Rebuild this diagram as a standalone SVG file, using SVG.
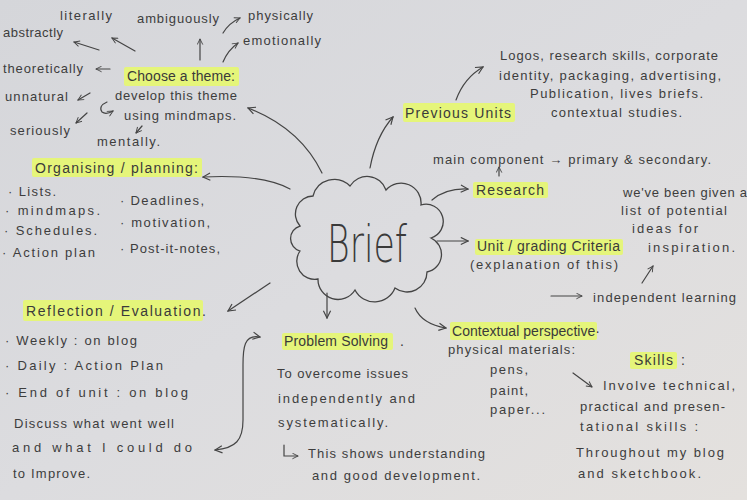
<svg xmlns="http://www.w3.org/2000/svg" width="747" height="500" viewBox="0 0 747 500">
<defs>
<linearGradient id="paper" x1="0" y1="0" x2="1" y2="1">
<stop offset="0" stop-color="#d5d6da"/>
<stop offset="0.5" stop-color="#dcdcdf"/>
<stop offset="1" stop-color="#e4e1de"/>
</linearGradient>
<marker id="ah" viewBox="0 0 10 10" refX="9" refY="5" markerWidth="9" markerHeight="9" orient="auto-start-reverse" markerUnits="userSpaceOnUse">
<path d="M1,1 L9,5 L1,9" fill="none" stroke="#444" stroke-width="1.3"/>
</marker>
<marker id="ahs" viewBox="0 0 10 10" refX="9" refY="5" markerWidth="7" markerHeight="7" orient="auto-start-reverse" markerUnits="userSpaceOnUse">
<path d="M1,1 L9,5 L1,9" fill="none" stroke="#444" stroke-width="1.3"/>
</marker>
</defs>
<style>
text{font-family:"Liberation Sans","DejaVu Sans",sans-serif;fill:#3d3d3d;font-size:13px}
.h{font-size:14px;fill:#3a3a3a}
.hl{fill:#e5f57a}
.c{fill:none;stroke:#444;stroke-width:1.2;stroke-linecap:round}
.a{marker-end:url(#ah)}
.s{marker-end:url(#ahs)}
.big{font-family:"DejaVu Sans","Liberation Sans",sans-serif;font-weight:200;font-size:52px;fill:#3a3a3a}
</style>
<rect width="747" height="500" fill="url(#paper)"/>

<g id="connectors">
<path class="c s" d="M99,50 L74,42"/>
<path class="c s" d="M135,51 L112,38"/>
<path class="c s" d="M200,60 L200,39"/>
<path class="c s" d="M223,33 Q229,23 240,18"/>
<path class="c s" d="M223,62 Q228,50 238,43"/>
<path class="c s" d="M110,69 L96,69"/>
<path class="c s" d="M90,93 L78,100"/>
<path class="c s" d="M87,113 L76,123"/>
<path class="c s" d="M107,102 Q98,106 102,112 Q106,115 113,111"/>
<path class="c s" d="M142,126 L136,133"/>
<path class="c a" d="M322,173 Q300,128 248,108"/>
<path class="c a" d="M370,168 Q376,136 393,117"/>
<path class="c a" d="M290,189 Q262,174 203,177"/>
<path class="c a" d="M270,283 L228,311"/>
<path class="c a" d="M327,293 L327,318"/>
<path class="c a" d="M415,308 Q422,324 446,328"/>
<path class="c a" d="M432,200 Q446,188 468,189"/>
<path class="c a" d="M437,241 L468,241"/>
<path class="c a" d="M456,100 Q464,78 483,67"/>
<path class="c s" d="M499,176 L499,167"/>
<path class="c s" d="M642,283 L653,266"/>
<path class="c s" d="M551,296 L582,296"/>
<path class="c s" d="M573,373 L592,387"/>
<path class="c" marker-start="url(#ah)" marker-end="url(#ah)" d="M260,337 C244,334 243,348 243,365 L243,420 C243,440 236,448 215,450"/>
<path class="c s" d="M284,445 L284,456 L298,456"/>
</g>

<g id="brief">
<path d="M300,226 A18,18 0 0 1 313,196 A22,22 0 0 1 350,186 A20,20 0 0 1 386,190 A20,20 0 0 1 421,205 A17,17 0 0 1 431,238 A18,18 0 0 1 427,272 A20,20 0 0 1 395,288 A22,22 0 0 1 355,290 A20,20 0 0 1 318,279 A18,18 0 0 1 300,251 A13,13 0 0 1 300,226 Z" fill="none" stroke="#444" stroke-width="1.3"/>
<text class="big" x="327" y="262" textLength="80" lengthAdjust="spacingAndGlyphs">Brief</text>
</g>

<g id="theme">
<rect class="hl" x="124" y="67" width="115" height="19" rx="2"/>
<text class="h" x="127" y="81" textLength="108">Choose a theme:</text>
<text x="115" y="100" textLength="122">develop this theme</text>
<text x="124" y="120" textLength="112">using mindmaps.</text>
<text x="60" y="20" textLength="52">literally</text>
<text x="137" y="23" textLength="82">ambiguously</text>
<text x="248" y="20" textLength="65">physically</text>
<text x="3" y="37" textLength="60">abstractly</text>
<text x="243" y="45" textLength="78">emotionally</text>
<text x="3" y="73" textLength="80">theoretically</text>
<text x="5" y="101" textLength="63">unnatural</text>
<text x="10" y="135" textLength="60">seriously</text>
<text x="97" y="146" textLength="63">mentally.</text>
</g>

<g id="previous-units">
<rect class="hl" x="403" y="103" width="112" height="19" rx="2"/>
<text class="h" x="405" y="118" textLength="106">Previous Units</text>
<text x="500" y="60" textLength="218">Logos, research skills, corporate</text>
<text x="499" y="80" textLength="222">identity, packaging, advertising,</text>
<text x="530" y="98" textLength="173">Publication, lives briefs.</text>
<text x="551" y="117" textLength="131">contextual studies.</text>
</g>

<g id="organising">
<rect class="hl" x="32" y="158" width="170" height="19" rx="2"/>
<text class="h" x="35" y="173" textLength="163">Organising / planning:</text>
<text x="8" y="196" textLength="48">· Lists.</text>
<text x="5" y="215" textLength="95">· mindmaps.</text>
<text x="4" y="235" textLength="93">· Schedules.</text>
<text x="2" y="257" textLength="93">· Action plan</text>
<text x="120" y="205" textLength="84">· Deadlines,</text>
<text x="120" y="227" textLength="90">· motivation,</text>
<text x="120" y="253" textLength="100">· Post-it-notes,</text>
</g>

<g id="research">
<text x="433" y="164" textLength="278">main component → primary &amp; secondary.</text>
<rect class="hl" x="473" y="182" width="75" height="16" rx="2"/>
<text class="h" x="476" y="195" textLength="68">Research</text>
<text x="623" y="197" textLength="124">we've been given a</text>
<text x="621" y="215" textLength="106">list of potential</text>
<text x="632" y="233" textLength="66">ideas for</text>
<text x="648" y="252" textLength="87">inspiration.</text>
</g>

<g id="unit-criteria">
<rect class="hl" x="475" y="239" width="148" height="16" rx="2"/>
<text class="h" x="477" y="251" textLength="143">Unit / grading Criteria</text>
<text x="470" y="269" textLength="148">(explanation of this)</text>
<text x="593" y="302" textLength="143">independent learning</text>
</g>

<g id="reflection">
<rect class="hl" x="23" y="300" width="180" height="21" rx="2"/>
<text class="h" x="26" y="316" textLength="180">Reflection / Evaluation.</text>
<text x="5" y="345" textLength="132">· Weekly : on blog</text>
<text x="5" y="370" textLength="158">· Daily : Action Plan</text>
<text x="5" y="397" textLength="183">· End of unit : on blog</text>
<text x="14" y="428" textLength="160">Discuss what went well</text>
<text x="12" y="452" textLength="180">and what I could do</text>
<text x="13" y="478" textLength="77">to Improve.</text>
</g>

<g id="problem-solving">
<rect class="hl" x="282" y="333" width="111" height="17" rx="2"/>
<text class="h" x="284" y="346" textLength="104">Problem Solving</text>
<text class="h" x="400" y="346">.</text>
<text x="277" y="378" textLength="131">To overcome issues</text>
<text x="278" y="403" textLength="137">independently and</text>
<text x="278" y="427" textLength="110">systematically.</text>
<text x="308" y="458" textLength="177">This shows understanding</text>
<text x="312" y="480" textLength="168">and good development.</text>
</g>

<g id="contextual">
<rect class="hl" x="450" y="322" width="147" height="18" rx="2"/>
<text class="h" x="452" y="336" textLength="148">Contextual perspective·</text>
<text x="448" y="354" textLength="127">physical materials:</text>
<text x="490" y="374" textLength="38">pens,</text>
<text x="490" y="395" textLength="38">paint,</text>
<text x="490" y="414" textLength="55">paper...</text>
</g>

<g id="skills">
<rect class="hl" x="630" y="352" width="47" height="17" rx="2"/>
<text class="h" x="634" y="365" textLength="39">Skills</text>
<text class="h" x="681" y="365">:</text>
<text x="603" y="390" textLength="132">Involve technical,</text>
<text x="580" y="411" textLength="145">practical and presen-</text>
<text x="580" y="431" textLength="118">tational skills :</text>
<text x="576" y="457" textLength="148">Throughout my blog</text>
<text x="578" y="478" textLength="123">and sketchbook.</text>
</g>
</svg>
